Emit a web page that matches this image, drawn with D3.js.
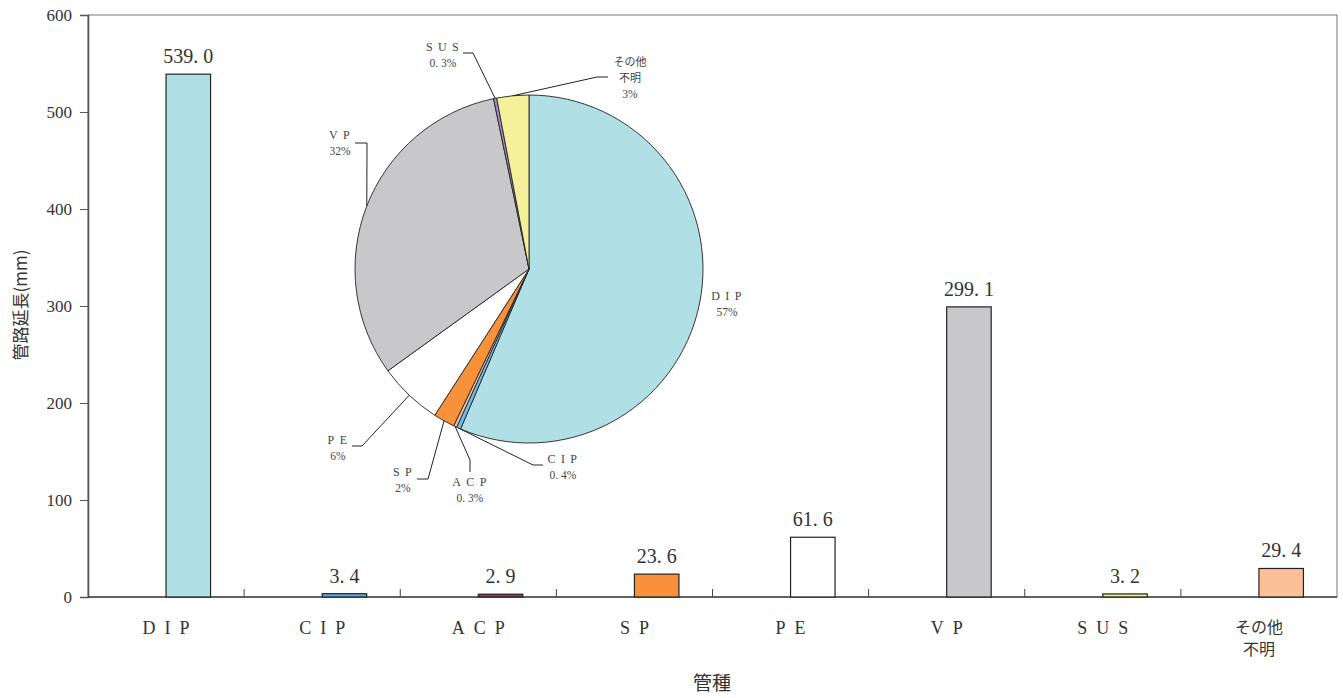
<!DOCTYPE html>
<html lang="ja">
<head>
<meta charset="utf-8">
<script src="https://cdn.jsdelivr.net/npm/d3@7"></script>
<style>
  html, body { margin: 0; padding: 0; background: #fff; }
  svg { display: block; }
</style>
</head>
<body>
<svg id="chart" width="1343" height="698"></svg>
<script>
// Pipe types and their total length
const categories = ["DIP", "CIP", "ACP", "SP", "PE", "VP", "SUS", "その他\n不明"];
const lengths = [539.0, 3.4, 2.9, 23.6, 61.6, 299.1, 3.2, 29.4];
const yTicks = [0, 100, 200, 300, 400, 500, 600];

// Share of each pipe type as printed on the pie (%)
const pieNames = ["DIP", "CIP", "ACP", "SP", "PE", "VP", "SUS", "その他\n不明"];
const pieShares = [57, 0.4, 0.3, 2, 6, 32, 0.3, 3];

// Fill colours
const barColors = ["#b0e0e6", "#5aaede", "#a3305f", "#f7923a", "#ffffff", "#c8c8ca", "#ece98c", "#fcbf98"];
const pieColors = ["#b0e0e6", "#6cbcec", "#f9c19b", "#f7923a", "#ffffff", "#c8c8ca", "#a48bd0", "#f5f19a"];

const SERIF = "'Liberation Serif', 'DejaVu Serif', serif";
const JP = "'Noto Sans CJK JP', 'Liberation Serif', serif";

const svg = d3.select("#chart");
const margin = { left: 88, top: 15, right: 6, bottom: 101 };
const W = 1343, H = 698;
const plotW = W - margin.left - margin.right;
const plotH = H - margin.top - margin.bottom;

const x = d3.scaleBand().domain(categories).range([margin.left, margin.left + plotW]).paddingInner(0).paddingOuter(0);
const y = d3.scaleLinear().domain([0, 600]).range([margin.top + plotH, margin.top]);

// Plot frame
svg.append("rect")
  .attr("x", margin.left).attr("y", margin.top)
  .attr("width", plotW).attr("height", plotH)
  .attr("fill", "none").attr("stroke", "#777").attr("stroke-width", 1);

// Y axis
const yAxis = svg.append("g")
  .attr("transform", `translate(${margin.left},0)`)
  .call(d3.axisLeft(y).tickValues(yTicks).tickSize(8).tickPadding(8).tickFormat(d3.format("d")));
yAxis.attr("font-family", SERIF).attr("font-size", 17);
yAxis.select(".domain").attr("stroke", "#555").attr("stroke-width", 1.6);
yAxis.selectAll(".tick line").attr("stroke", "#555");
yAxis.selectAll("text").style("font-family", SERIF).style("font-size", "17px").attr("fill", "#333");

// X axis: band boundaries as inward ticks
const xAxis = svg.append("g").attr("transform", `translate(0,${y(0)})`);
xAxis.append("line")
  .attr("x1", margin.left).attr("x2", margin.left + plotW)
  .attr("stroke", "#444").attr("stroke-width", 1.4);
xAxis.selectAll("line.sep")
  .data(categories.slice(1))
  .join("line")
  .attr("class", "sep")
  .attr("x1", d => x(d)).attr("x2", d => x(d))
  .attr("y1", 0).attr("y2", -8)
  .attr("stroke", "#444");

// Category labels
const catLabels = xAxis.selectAll("text.cat")
  .data(categories)
  .join("text")
  .attr("class", "cat")
  .attr("x", d => x(d) + x.bandwidth() / 2)
  .attr("y", 37)
  .attr("text-anchor", "middle")
  .style("font-family", d => d.includes("\n") ? JP : SERIF)
  .style("font-size", d => d.includes("\n") ? "16px" : "18px")
  .attr("fill", "#333");
catLabels.each(function (d) {
  const t = d3.select(this);
  const lines = d.split("\n");
  if (lines.length === 1) {
    t.attr("letter-spacing", "0.5em").attr("dx", "0.25em").text(d);
  } else {
    lines.forEach((ln, i) => {
      t.append("tspan").attr("x", x(d) + x.bandwidth() / 2).attr("dy", i === 0 ? -1 : 22).text(ln);
    });
  }
});

// Bars
const barW = x.bandwidth() * 0.285;
svg.append("g").selectAll("rect")
  .data(lengths)
  .join("rect")
  .attr("x", (d, i) => x(categories[i]) + x.bandwidth() / 2)
  .attr("y", d => y(d))
  .attr("width", barW)
  .attr("height", d => y(0) - y(d))
  .attr("fill", (d, i) => barColors[i])
  .attr("stroke", "#222").attr("stroke-width", 1.2);

// Value labels
const fmt = v => d3.format(".1f")(v).replace(".", ". ");
svg.append("g").selectAll("text")
  .data(lengths)
  .join("text")
  .attr("x", (d, i) => x(categories[i]) + x.bandwidth() / 2 + barW / 2)
  .attr("y", d => y(d) - 11)
  .attr("text-anchor", "middle")
  .style("font-family", SERIF)
  .style("font-size", "20px")
  .attr("fill", "#333")
  .attr("xml:space", "preserve")
  .text(d => fmt(d));

// Axis titles
svg.append("text")
  .attr("transform", "translate(27,305) rotate(-90)")
  .attr("text-anchor", "middle")
  .style("font-family", JP)
  .style("font-size", "17px")
  .attr("fill", "#333")
  .text("管路延長(mm)");
svg.append("text")
  .attr("x", 712).attr("y", 690)
  .attr("text-anchor", "middle")
  .style("font-family", JP)
  .style("font-size", "19px")
  .attr("fill", "#333")
  .text("管種");

// Inset pie
const cx = 529, cy = 269, R = 174;
const pie = d3.pie().sort(null).value(d => d).startAngle(0).endAngle(2 * Math.PI);
const arcs = pie(pieShares);
const arc = d3.arc().innerRadius(0).outerRadius(R);
const gPie = svg.append("g").attr("transform", `translate(${cx},${cy})`);
gPie.selectAll("path")
  .data(arcs)
  .join("path")
  .attr("d", arc)
  .attr("fill", (d, i) => pieColors[i])
  .attr("stroke", "#222").attr("stroke-width", 0.9);

// Label placement for the pie (absolute page coordinates)
const pieLabelLayout = [
  { tx: 727, ty: 300, leader: null },
  { tx: 563, ty: 463, leader: [[533, 465], [543, 465]] },
  { tx: 470, ty: 486, leader: [[470, 460], [470, 472]] },
  { tx: 403, ty: 476, leader: [[428, 479], [417, 479]] },
  { tx: 338, ty: 444, leader: [[362, 446], [352, 446]] },
  { tx: 340, ty: 139, leader: [[367, 143], [355, 143]] },
  { tx: 443, ty: 51, leader: [[473, 53], [463, 53]] },
  { tx: 630, ty: 66, leader: [[597, 77], [608, 77]] }
];

const edgePoint = a => {
  const m = (a.startAngle + a.endAngle) / 2;
  return [cx + R * Math.sin(m), cy - R * Math.cos(m)];
};

const gLab = svg.append("g");
arcs.forEach((a, i) => {
  const L = pieLabelLayout[i];
  if (L.leader) {
    gLab.append("path")
      .attr("d", d3.line()([edgePoint(a), ...L.leader]))
      .attr("fill", "none").attr("stroke", "#222").attr("stroke-width", 1);
  }
  const nameLines = pieNames[i].split("\n");
  const pct = String(pieShares[i]).replace(".", ". ") + "%";
  const t = gLab.append("text")
    .attr("text-anchor", "middle")
    .attr("fill", "#444")
    .attr("xml:space", "preserve");
  nameLines.forEach((ln, k) => {
    const isJp = /[^\x00-\x7F]/.test(ln);
    t.append("tspan")
      .attr("x", L.tx + (isJp ? 0 : 2))
      .attr("y", L.ty + k * 16)
      .style("font-family", isJp ? JP : SERIF)
      .style("font-size", isJp ? "11px" : "12px")
      .attr("letter-spacing", isJp ? null : "0.45em")
      .text(ln);
  });
  t.append("tspan")
    .attr("x", L.tx)
    .attr("y", L.ty + nameLines.length * 16)
    .style("font-family", SERIF)
    .style("font-size", "11.5px")
    .text(pct);
});
</script>
</body>
</html>
